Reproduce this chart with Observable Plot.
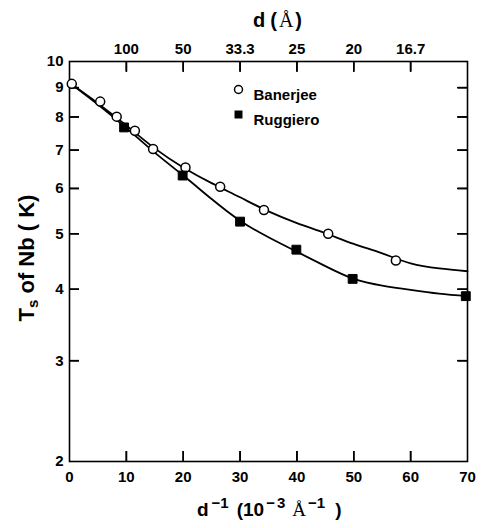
<!DOCTYPE html>
<html><head><meta charset="utf-8">
<script src="https://cdn.jsdelivr.net/npm/d3@7"></script>
<script src="https://cdn.jsdelivr.net/npm/@observablehq/plot@0.6"></script>
<style>body{margin:0;background:#fff} svg{display:block}</style>
</head><body><div id="chart"></div>
<script>
// axis ticks
const xTicks = [0, 10, 20, 30, 40, 50, 60, 70];
const yTicks = [2, 3, 4, 5, 6, 7, 8, 9, 10];
const dTickPos = [10, 20, 30, 40, 50, 60];
const dTickLabels = ["100", "50", "33.3", "25", "20", "16.7"];

// measured points
const banerjeeX = [0.4, 5.4, 8.3, 11.5, 14.7, 20.4, 26.5, 34.2, 45.5, 57.4];
const banerjeeT = [9.14, 8.51, 8.01, 7.57, 7.03, 6.53, 6.04, 5.50, 5.00, 4.49];
const ruggieroX = [9.6, 19.9, 30.0, 39.9, 49.8, 69.7];
const ruggieroT = [7.67, 6.32, 5.25, 4.69, 4.17, 3.89];

// fitted curves
const fitX = [0, 5, 10, 15, 20, 25, 30, 35, 40, 45, 50, 55, 60, 65, 70];
const banerjeeFitT = [9.18, 8.45, 7.73, 7.05, 6.53, 6.13, 5.79, 5.47, 5.22, 5.01, 4.80, 4.62, 4.44, 4.35, 4.30];
const ruggieroFitT = [9.18, 8.41, 7.65, 6.93, 6.32, 5.75, 5.27, 4.93, 4.65, 4.39, 4.17, 4.06, 3.99, 3.93, 3.89];

const legendLabels = ["Banerjee", "Ruggiero"];

const banerjee = banerjeeX.map((x, i) => ({x, t: banerjeeT[i]}));
const ruggiero = ruggieroX.map((x, i) => ({x, t: ruggieroT[i]}));
const bFit = fitX.map((x, i) => ({x, t: banerjeeFitT[i]}));
const rFit = fitX.map((x, i) => ({x, t: ruggieroFitT[i]}));

const W = 482, H = 528, ML = 69, MR = 15, MT = 61, MB = 67;
const PW = W - ML - MR, PH = H - MT - MB;
const TL = 10;
const innerX = dTickPos;
const innerY = yTicks.slice(1, -1);
const blank = () => "";
const ff = "'Liberation Sans', Arial, sans-serif";
const serif = "'Liberation Serif', 'Times New Roman', serif";

const svg = Plot.plot({
  width: W, height: H,
  marginLeft: ML, marginRight: MR, marginTop: MT, marginBottom: MB,
  style: {fontFamily: ff, fontWeight: "bold", fontSize: "15px", background: "white", color: "black"},
  x: {domain: [0, 70]},
  y: {type: "log", domain: [2, 10]},
  marks: [
    Plot.frame({stroke: "black", strokeWidth: 1.6}),
    // inward ticks
    Plot.ruleX(innerX, {x: d => d, insetTop: PH - TL, stroke: "black", strokeWidth: 1.6}),
    Plot.ruleX(innerX, {x: d => d, insetBottom: PH - TL, stroke: "black", strokeWidth: 1.6}),
    Plot.ruleY(innerY, {y: d => d, insetRight: PW - TL, stroke: "black", strokeWidth: 1.6}),
    Plot.ruleY(innerY, {y: d => d, insetLeft: PW - TL, stroke: "black", strokeWidth: 1.6}),
    Plot.axisX({anchor: "bottom", ticks: innerX, tickSize: -TL, tickFormat: blank, label: null, strokeWidth: 1.6}),
    Plot.axisX({anchor: "top", ticks: innerX, tickSize: -TL, tickFormat: blank, label: null, strokeWidth: 1.6}),
    Plot.axisY({anchor: "left", ticks: innerY, tickSize: -TL, tickFormat: blank, label: null, strokeWidth: 1.6}),
    Plot.axisY({anchor: "right", ticks: innerY, tickSize: -TL, tickFormat: blank, label: null, strokeWidth: 1.6}),
    // labels
    Plot.axisX({anchor: "bottom", ticks: xTicks, tickSize: 0, tickPadding: 10, tickFormat: d => String(d), label: null}),
    Plot.axisX({anchor: "top", ticks: dTickPos, tickSize: 0, tickPadding: 8, tickFormat: d => dTickLabels[dTickPos.indexOf(d)], label: null}),
    Plot.axisY({anchor: "left", ticks: yTicks, tickSize: 0, tickPadding: 6, tickFormat: d => String(d), label: null}),
    // data
    Plot.line(bFit, {x: "x", y: "t", curve: "natural", stroke: "black", strokeWidth: 1.8}),
    Plot.line(rFit, {x: "x", y: "t", curve: "natural", stroke: "black", strokeWidth: 1.8}),
    Plot.dot(banerjee, {x: "x", y: "t", symbol: "circle", r: 4.5, fill: "white", stroke: "black", strokeWidth: 1.5}),
    Plot.dot(ruggiero, {x: "x", y: "t", symbol: "square", r: 5, fill: "black", stroke: "black", strokeWidth: 1}),
    // legend
    Plot.dot([legendLabels[0]], {frameAnchor: "top-left", dx: 169, dy: 28, symbol: "circle", r: 4, fill: "white", stroke: "black", strokeWidth: 1.5}),
    Plot.dot([legendLabels[1]], {frameAnchor: "top-left", dx: 169, dy: 53, symbol: "square", r: 4.5, fill: "black"}),
    Plot.text([legendLabels[0]], {frameAnchor: "top-left", dx: 184, dy: 28, text: d => d, textAnchor: "start", fontSize: 15, fontWeight: "bold"}),
    Plot.text([legendLabels[1]], {frameAnchor: "top-left", dx: 184, dy: 53, text: d => d, textAnchor: "start", fontSize: 15, fontWeight: "bold"})
  ]
});

const s = d3.select(svg);

// top title d (Å)
const tt = s.append("text").attr("x", 277.5).attr("y", 27).attr("text-anchor", "middle")
  .attr("font-family", ff).attr("font-weight", "bold").attr("font-size", 20).attr("fill", "black");
tt.append("tspan").text("d");
tt.append("tspan").attr("dx", 5).text("(");
tt.append("tspan").attr("dx", 2).attr("font-family", serif).attr("font-weight", "normal").text("Å");
tt.append("tspan").attr("dx", 2).text(")");

// bottom title
const bt = s.append("text").attr("x", 197).attr("y", 516).attr("text-anchor", "start")
  .attr("font-family", ff).attr("font-weight", "bold").attr("font-size", 19).attr("fill", "black");
bt.append("tspan").text("d");
bt.append("tspan").attr("font-size", 15).attr("dy", -8).attr("dx", 3).text("−1");
bt.append("tspan").attr("dy", 8).attr("dx", 8).text("(10");
bt.append("tspan").attr("font-size", 15).attr("dy", -8).attr("dx", 2).attr("letter-spacing", 2).text("−3");
bt.append("tspan").attr("dy", 8).attr("dx", 5).attr("font-family", serif).attr("font-weight", "normal").text("Å");
bt.append("tspan").attr("font-size", 15).attr("dy", -8).attr("dx", 2).text("−1");
bt.append("tspan").attr("dy", 8).attr("dx", 10).text(")");

// y title
const yt = s.append("text").attr("transform", "translate(34,258) rotate(-90)").attr("text-anchor", "middle")
  .attr("font-family", ff).attr("font-weight", "bold").attr("font-size", 22).attr("fill", "black");
yt.append("tspan").text("T");
yt.append("tspan").attr("font-size", 15).attr("dy", 4).text("s");
yt.append("tspan").attr("dy", -4).text(" of Nb ( K)");

document.getElementById("chart").appendChild(svg);
</script>
</body></html>
